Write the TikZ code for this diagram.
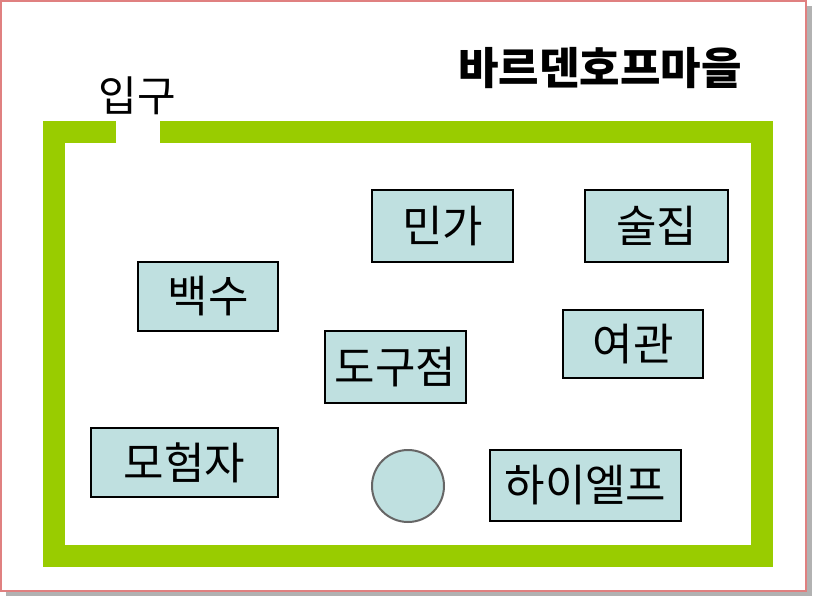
\documentclass[tikz,border=0pt]{standalone}
\usepackage{fontspec}
\setmainfont{Noto Sans CJK KR}
\definecolor{wallgreen}{HTML}{99CC00}
\definecolor{roomblue}{HTML}{BFE0E0}
\definecolor{framered}{HTML}{E08080}
\tikzset{
  room/.style={draw=black,fill=roomblue,line width=2pt,inner sep=0pt,font=\fontsize{44}{44}\selectfont},
}
\begin{document}
\begin{tikzpicture}[x=1pt,y=-1pt]
  \useasboundingbox (0,0) rectangle (816,600);
  % frame
  \fill[gray!60] (6,6) rectangle (812,596);
  \draw[framered,fill=white,line width=1.5pt] (1,1) rectangle (806,591);
  % wall
  \draw[wallgreen,line width=22pt] (116,132) -- (54,132) -- (54,556) -- (762,556) -- (762,132) -- (160,132);
  \node (entrance) at (137,96) {\fontsize{42}{42}\selectfont 입구};
  \node (title) at (600,68) {\fontsize{44}{44}\selectfont\bfseries 바르덴호프마을};
  % rooms
  \node[room,minimum width=141pt,minimum height=72pt] (minga) at (442.5,226) {민가};
  \node[room,minimum width=143pt,minimum height=72pt] (suljip) at (656.5,226) {술집};
  \node[room,minimum width=140pt,minimum height=69pt] (baeksu) at (208,296.5) {백수};
  \node[room,minimum width=140pt,minimum height=68pt] (yeogwan) at (633,344) {여관};
  \node[room,minimum width=141pt,minimum height=72pt] (dogujeom) at (395.5,367) {도구점};
  \node[room,minimum width=187pt,minimum height=69pt] (moheomja) at (184.5,462.5) {모험자};
  \node[room,minimum width=191pt,minimum height=71pt] (haielpeu) at (585.5,485.5) {하이엘프};
  \node[circle,draw=gray!80!black,fill=roomblue,line width=2pt,minimum size=72pt] (well) at (408,486) {};
\end{tikzpicture}
\end{document}
